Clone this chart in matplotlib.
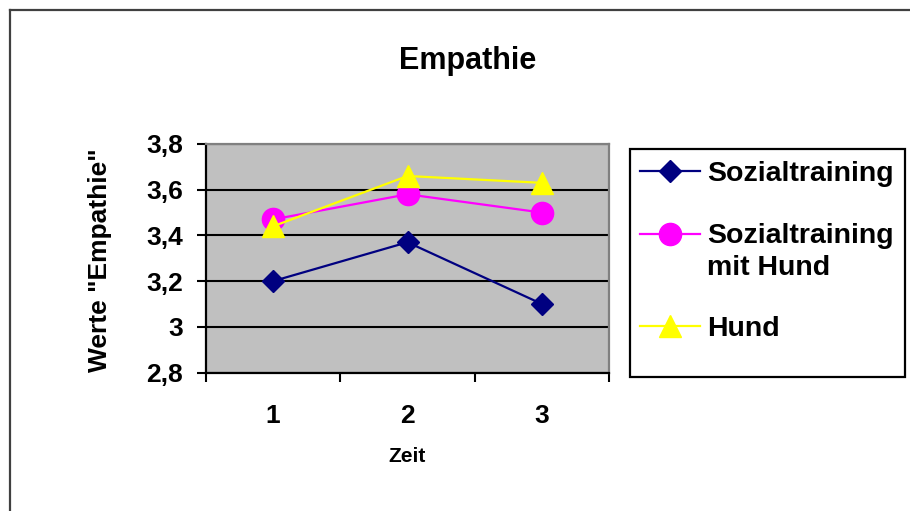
import matplotlib
matplotlib.use("Agg")
import matplotlib.pyplot as plt
from matplotlib.patches import Rectangle
from matplotlib.lines import Line2D
from matplotlib.legend_handler import HandlerLine2D
from matplotlib.transforms import Affine2D

plt.rcParams['font.family'] = ['Liberation Sans', 'DejaVu Sans']
plt.rcParams['font.weight'] = 'bold'

# data
zeit = [1, 2, 3]
zeit_labels = ['1', '2', '3']
sozialtraining = [3.2, 3.37, 3.1]
sozial_mit_hund = [3.47, 3.58, 3.5]
hund = [3.44, 3.66, 3.63]
y_ticks = [2.8, 3.0, 3.2, 3.4, 3.6, 3.8]
y_tick_labels = ['2,8', '3', '3,2', '3,4', '3,6', '3,8']

W, H = 910, 511
fig = plt.figure(figsize=(W / 100, H / 100), dpi=100)

# outer frame (only left and top edges visible)
fig.add_artist(Line2D([10 / W, 10 / W], [0, 1 - 10 / H], color='#404040', lw=1.6))
fig.add_artist(Line2D([10 / W, 1], [1 - 10 / H, 1 - 10 / H], color='#404040', lw=1.6))

ax = fig.add_axes([206 / W, 1 - 372.5 / H, 403 / W, 228.5 / H])
ax.set_facecolor('#c0c0c0')

l1, = ax.plot(zeit, sozialtraining, color='#000080', lw=1.6, marker='D', ms=11, label='Sozialtraining')
l2, = ax.plot(zeit, sozial_mit_hund, color='#ff00ff', lw=1.6, marker='o', ms=16,
              label='Sozialtraining\nmit Hund')
l3, = ax.plot(zeit, hund, color='#ffff00', lw=1.6, marker='^', ms=16, label='Hund')

ax.set_xlim(0.5, 3.5)
ax.set_ylim(2.8, 3.8)
ax.set_yticks(y_ticks)
ax.set_yticklabels(y_tick_labels)
ax.set_xticks(zeit)
ax.set_xticklabels(zeit_labels)
ax.set_xticks([0.5, 1.5, 2.5, 3.5], minor=True)

ax.tick_params(axis='y', direction='out', length=6.5, width=1.5, pad=10, labelsize=19)
ax.tick_params(axis='x', which='major', length=0, pad=23, labelsize=19)
ax.tick_params(axis='x', which='minor', direction='out', length=6.5, width=1.5)

ax.yaxis.grid(True, color='black', lw=1.5)
ax.set_axisbelow(True)

for side in ['left', 'bottom']:
    ax.spines[side].set_color('black')
    ax.spines[side].set_linewidth(1.6)
for side in ['top', 'right']:
    ax.spines[side].set_color('#808080')
    ax.spines[side].set_linewidth(1.6)

ax.set_ylabel('Werte "Empathie"', fontsize=19, fontweight='bold')
ax.yaxis.set_label_coords((112 - 206) / 403, 0.49)
ax.set_xlabel('Zeit', fontsize=15, fontweight='bold')
ax.xaxis.set_label_coords(0.5, (372.5 - 447) / 228.5)

fig.text(467.5 / W, 1 - 69 / H, 'Empathie', ha='center', va='baseline', fontsize=22, fontweight='bold')

# legend box
fig.add_artist(Rectangle((630 / W, 1 - 377 / H), 275 / W, 228 / H, transform=fig.transFigure,
                         fill=False, edgecolor='black', lw=1.6))


class HandlerTopLine(HandlerLine2D):
    # put the handle next to the first text line of a two-line label
    def create_artists(self, legend, orig_handle, xdescent, ydescent, width, height, fontsize, trans):
        arts = super().create_artists(legend, orig_handle, xdescent, ydescent, width, height, fontsize, trans)
        for a in arts:
            a.set_transform(Affine2D().translate(0, 0.62 * fontsize) + trans)
        return arts


leg = fig.legend(handles=[l1, l2, l3], loc='upper left', bbox_to_anchor=(640 / W, 1 - 161 / H),
                 frameon=False, fontsize=20.5, borderpad=0, borderaxespad=0, handlelength=2.1,
                 handletextpad=0.25, labelspacing=1.25, handler_map={l2: HandlerTopLine()})
for t in leg.get_texts():
    t.set_linespacing(1.3)

fig.savefig('out.png', dpi=100)
